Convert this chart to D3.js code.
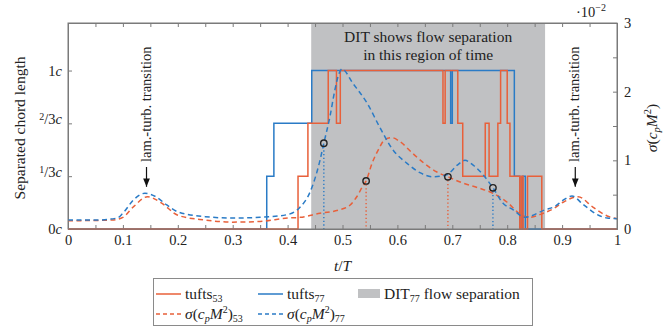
<!DOCTYPE html>
<html>
<head>
<meta charset="utf-8">
<script src="https://cdn.jsdelivr.net/npm/d3@7.9.0/dist/d3.min.js"></script>
<style>
  body { margin: 0; background: #fff; }
  svg, svg text { font-family: "Liberation Serif", "DejaVu Serif", serif; }
</style>
</head>
<body>
<div id="chart"></div>
<script>
// tufts step data: [t/T, separated chord length in c]
const tufts53 = [
  [0, 0], [0.419, 1/3], [0.437, 2/3], [0.474, 1], [0.489, 2/3], [0.496, 1],
  [0.683, 2/3], [0.687, 1], [0.710, 2/3], [0.719, 1/3], [0.760, 2/3], [0.767, 1/3],
  [0.783, 2/3], [0.788, 1], [0.800, 2/3], [0.805, 1/3], [0.823, 0], [0.826, 1/3],
  [0.829, 0], [0.837, 1/3], [0.863, 0], [1, 0],
];
const tufts77 = [
  [0, 0], [0.362, 1/3], [0.375, 2/3], [0.444, 1], [0.697, 2/3], [0.700, 1],
  [0.813, 1/3], [0.823, 0], [0.828, 1/3], [0.833, 0], [1, 0],
];

// sigma(c_p M^2), in units of 1e-2
const sigma53 = [
  [0, 0.12], [0.08, 0.13], [0.1, 0.17], [0.12, 0.33], [0.145, 0.47], [0.17, 0.38],
  [0.2, 0.2], [0.25, 0.13], [0.3, 0.1], [0.35, 0.11], [0.4, 0.16], [0.423, 0.17],
  [0.459, 0.23], [0.495, 0.28], [0.514, 0.35], [0.526, 0.47], [0.536, 0.61],
  [0.543, 0.70], [0.554, 0.96], [0.565, 1.15], [0.577, 1.3], [0.590, 1.33],
  [0.605, 1.27], [0.628, 1.1], [0.645, 0.98], [0.672, 0.83], [0.692, 0.76],
  [0.719, 0.67], [0.747, 0.6], [0.774, 0.52], [0.800, 0.39], [0.823, 0.22],
  [0.84, 0.17], [0.863, 0.22], [0.885, 0.3], [0.902, 0.39], [0.929, 0.47],
  [0.956, 0.32], [0.982, 0.19], [1, 0.15],
];
const sigma77 = [
  [0, 0.13], [0.05, 0.13], [0.09, 0.16], [0.1, 0.23], [0.12, 0.43], [0.14, 0.52],
  [0.16, 0.47], [0.18, 0.35], [0.2, 0.25], [0.25, 0.18], [0.3, 0.16], [0.35, 0.17],
  [0.4, 0.21], [0.423, 0.32], [0.441, 0.54], [0.459, 1.0], [0.466, 1.25],
  [0.477, 1.63], [0.486, 2.02], [0.494, 2.27], [0.499, 2.33], [0.519, 2.12],
  [0.545, 1.83], [0.568, 1.48], [0.592, 1.15], [0.617, 0.96], [0.641, 0.82],
  [0.665, 0.76], [0.690, 0.79], [0.709, 0.93], [0.723, 1.0], [0.738, 0.93],
  [0.756, 0.79], [0.774, 0.6], [0.792, 0.38], [0.811, 0.28], [0.832, 0.17],
  [0.869, 0.28], [0.887, 0.33], [0.902, 0.42], [0.918, 0.48], [0.938, 0.36],
  [0.964, 0.21], [0.982, 0.16], [1, 0.15],
];

// marked points on the sigma curves
const markers53 = [[0.543, 0.70], [0.692, 0.76]];
const markers77 = [[0.466, 1.25], [0.774, 0.6]];

// DIT separation window
const ditRange = [0.443, 0.869];

// transition arrows: [t/T, sigma value at tip]
const transitions = [[0.143, 0.6], [0.924, 0.6]];

const xTicks = d3.range(0, 1.0001, 0.05);
const leftTicks = [0, 1/3, 2/3, 1];
const leftLabels = [['', '', '0'], ['1', '/', '3'], ['2', '/', '3'], ['', '', '1']];
const rightTicks = d3.range(0, 3.0001, 0.5);

const colorOrange = '#e8603a';
const colorBlue = '#2a7bc6';
const gray = '#c0c1c3';
const frameColor = '#7a7a7a';
const textColor = '#222';
const font = '"Liberation Serif", "DejaVu Serif", serif';

const width = 667;
const height = 327;
const margin = { top: 23, right: 50, bottom: 98, left: 68 };

const svg = d3.select('#chart').append('svg')
  .attr('width', width)
  .attr('height', height)
  .attr('font-family', font);

const x = d3.scaleLinear().domain([0, 1]).range([margin.left, width - margin.right]);
const yL = d3.scaleLinear().domain([0, 1.3]).range([height - margin.bottom, margin.top]);
const yR = d3.scaleLinear().domain([0, 3]).range([height - margin.bottom, margin.top]);

const y0 = height - margin.bottom;

// gray DIT region
svg.append('rect')
  .attr('x', x(ditRange[0]))
  .attr('y', margin.top)
  .attr('width', x(ditRange[1]) - x(ditRange[0]))
  .attr('height', y0 - margin.top)
  .attr('fill', gray);

const ditText = svg.append('text')
  .attr('text-anchor', 'middle')
  .attr('font-size', 15.5)
  .attr('fill', textColor);
ditText.append('tspan').attr('x', x((ditRange[0] + ditRange[1]) / 2)).attr('y', 42).text('DIT shows flow separation');
ditText.append('tspan').attr('x', x((ditRange[0] + ditRange[1]) / 2)).attr('y', 60).text('in this region of time');

// axes
const fmtX = (d) => {
  const r = Math.round(d * 100);
  if (r % 10 !== 0) return '';
  return r === 0 ? '0' : r === 100 ? '1' : d3.format('.1f')(d);
};

const gx = svg.append('g')
  .attr('transform', `translate(0,${y0})`)
  .call(d3.axisBottom(x).tickValues(xTicks).tickSize(-4).tickPadding(6).tickFormat(fmtX));

svg.append('g')
  .attr('transform', `translate(0,${margin.top})`)
  .call(d3.axisTop(x).tickValues(xTicks).tickSize(-4).tickFormat(''));

const gl = svg.append('g')
  .attr('transform', `translate(${margin.left},0)`)
  .call(d3.axisLeft(yL).tickValues(leftTicks).tickSize(-4).tickPadding(6).tickFormat(''));
gl.selectAll('.tick text').each(function (d, i) {
  const t = d3.select(this);
  const [num, slash, den] = leftLabels[i];
  if (num) {
    t.append('tspan').attr('font-size', 10).attr('dy', '-0.35em').text(num);
    t.append('tspan').attr('dy', '0.25em').text(slash);
  }
  t.append('tspan').text(den);
  t.append('tspan').attr('font-style', 'italic').text('c');
});

const gr = svg.append('g')
  .attr('transform', `translate(${width - margin.right},0)`)
  .call(d3.axisRight(yR).tickValues(rightTicks).tickSize(-4).tickPadding(7)
    .tickFormat((d) => (Number.isInteger(d) ? d : '')));

// axis styling: serif labels, gray frame ticks
svg.selectAll('g').attr('font-family', font).attr('font-size', null);
svg.selectAll('.tick text').attr('font-size', 14.5).attr('fill', textColor);
svg.selectAll('.domain').attr('stroke', frameColor);
svg.selectAll('.tick line').attr('stroke', frameColor);

// tufts step lines
const stepLine = d3.line()
  .x((d) => x(d[0]))
  .y((d) => yL(d[1]))
  .curve(d3.curveStepAfter);

svg.append('path').datum(tufts77)
  .attr('d', stepLine).attr('fill', 'none')
  .attr('stroke', colorBlue).attr('stroke-width', 1.5);
svg.append('path').datum(tufts53)
  .attr('d', stepLine).attr('fill', 'none')
  .attr('stroke', colorOrange).attr('stroke-width', 1.5);

// sigma curves
const sigmaLine = d3.line()
  .x((d) => x(d[0]))
  .y((d) => yR(d[1]))
  .curve(d3.curveMonotoneX);

svg.append('path').datum(sigma53)
  .attr('d', sigmaLine).attr('fill', 'none')
  .attr('stroke', colorOrange).attr('stroke-width', 1.5)
  .attr('stroke-dasharray', '5,3.5');
svg.append('path').datum(sigma77)
  .attr('d', sigmaLine).attr('fill', 'none')
  .attr('stroke', colorBlue).attr('stroke-width', 1.5)
  .attr('stroke-dasharray', '5,3.5');

// dotted drop lines and circle markers
function drawMarkers(data, color) {
  svg.selectAll(null).data(data).enter().append('line')
    .attr('x1', (d) => x(d[0])).attr('x2', (d) => x(d[0]))
    .attr('y1', (d) => yR(d[1]) + 3.5).attr('y2', y0)
    .attr('stroke', color).attr('stroke-width', 1.4)
    .attr('stroke-dasharray', '1.3,2.4');
  svg.selectAll(null).data(data).enter().append('circle')
    .attr('cx', (d) => x(d[0])).attr('cy', (d) => yR(d[1]))
    .attr('r', 3.2).attr('fill', 'none')
    .attr('stroke', textColor).attr('stroke-width', 1.4);
}
drawMarkers(markers53, colorOrange);
drawMarkers(markers77, colorBlue);

// frame on top
svg.append('rect')
  .attr('x', margin.left).attr('y', margin.top)
  .attr('width', x(1) - x(0)).attr('height', y0 - margin.top)
  .attr('fill', 'none').attr('stroke', frameColor).attr('stroke-width', 1);

// transition annotations
svg.append('defs').append('marker')
  .attr('id', 'arrow').attr('viewBox', '0 0 10 10')
  .attr('refX', 10).attr('refY', 5)
  .attr('markerWidth', 7).attr('markerHeight', 7)
  .attr('orient', 'auto')
  .append('path').attr('d', 'M0,1 L10,5 L0,9 Z').attr('fill', '#111');

transitions.forEach(([t, v]) => {
  const ax = x(t);
  svg.append('line')
    .attr('x1', ax).attr('x2', ax)
    .attr('y1', 167).attr('y2', yR(v) - 1)
    .attr('stroke', '#111').attr('stroke-width', 1.2)
    .attr('marker-end', 'url(#arrow)');
  svg.append('text')
    .attr('transform', `translate(${ax + 4},162) rotate(-90)`)
    .attr('font-size', 14.5)
    .attr('fill', textColor)
    .text('lam.-turb. transition');
});

// axis labels
svg.append('text')
  .attr('transform', `translate(25,${(margin.top + y0) / 2 + 2}) rotate(-90)`)
  .attr('text-anchor', 'middle')
  .attr('font-size', 15.5)
  .attr('fill', textColor)
  .text('Separated chord length');

const rl = svg.append('text')
  .attr('transform', `translate(657,${(margin.top + y0) / 2 + 2}) rotate(-90)`)
  .attr('text-anchor', 'middle')
  .attr('font-size', 15.5)
  .attr('fill', textColor);
rl.append('tspan').attr('font-style', 'italic').text('σ');
rl.append('tspan').text('(');
rl.append('tspan').attr('font-style', 'italic').text('c');
rl.append('tspan').attr('font-style', 'italic').attr('font-size', 10.5).attr('dy', 3).text('p');
rl.append('tspan').attr('font-style', 'italic').attr('dy', -3).text('M');
rl.append('tspan').attr('font-size', 10.5).attr('dy', -6).text('2');
rl.append('tspan').attr('dy', 6).text(')');

const sc = svg.append('text')
  .attr('x', 576).attr('y', 17)
  .attr('font-size', 14.5)
  .attr('fill', textColor);
sc.append('tspan').text('·10');
sc.append('tspan').attr('font-size', 10).attr('dy', -6).text('−2');

const xl = svg.append('text')
  .attr('x', x(0.5)).attr('y', 271)
  .attr('text-anchor', 'middle')
  .attr('font-size', 15.5)
  .attr('fill', textColor);
xl.append('tspan').attr('font-style', 'italic').text('t');
xl.append('tspan').text('/');
xl.append('tspan').attr('font-style', 'italic').text('T');

// legend
const legend = svg.append('g');
legend.append('rect')
  .attr('x', 153.5).attr('y', 278.5)
  .attr('width', 379).attr('height', 47)
  .attr('fill', '#fff').attr('stroke', '#8a8a8a');

function sigmaLabel(sel, sub) {
  sel.append('tspan').attr('font-style', 'italic').text('σ');
  sel.append('tspan').text('(');
  sel.append('tspan').attr('font-style', 'italic').text('c');
  sel.append('tspan').attr('font-style', 'italic').attr('font-size', 10).attr('dy', 3).text('p');
  sel.append('tspan').attr('font-style', 'italic').attr('dy', -3).text('M');
  sel.append('tspan').attr('font-size', 10).attr('dy', -6).text('2');
  sel.append('tspan').attr('dy', 6).text(')');
  sel.append('tspan').attr('font-size', 10).attr('dy', 3).text(sub);
}

const legendItems = [
  { x: 156, y: 294, color: colorOrange, dash: null, kind: 'tufts', sub: '53' },
  { x: 258, y: 294, color: colorBlue, dash: null, kind: 'tufts', sub: '77' },
  { x: 156, y: 314, color: colorOrange, dash: '4,3', kind: 'sigma', sub: '53' },
  { x: 258, y: 314, color: colorBlue, dash: '4,3', kind: 'sigma', sub: '77' },
];

legendItems.forEach((it) => {
  legend.append('line')
    .attr('x1', it.x).attr('x2', it.x + 25)
    .attr('y1', it.y).attr('y2', it.y)
    .attr('stroke', it.color).attr('stroke-width', 1.5)
    .attr('stroke-dasharray', it.dash);
  const t = legend.append('text')
    .attr('x', it.x + 29).attr('y', it.y + 5)
    .attr('font-size', 15.5).attr('fill', textColor);
  if (it.kind === 'tufts') {
    t.append('tspan').text('tufts');
    t.append('tspan').attr('font-size', 10).attr('dy', 3).text(it.sub);
  } else {
    sigmaLabel(t, it.sub);
  }
});

legend.append('rect')
  .attr('x', 358).attr('y', 289)
  .attr('width', 22).attr('height', 9)
  .attr('fill', gray);
const dl = legend.append('text')
  .attr('x', 384).attr('y', 299)
  .attr('font-size', 15.5).attr('fill', textColor);
dl.append('tspan').text('DIT');
dl.append('tspan').attr('font-size', 10).attr('dy', 3).text('77');
dl.append('tspan').attr('dy', -3).text(' flow separation');
</script>
</body>
</html>
